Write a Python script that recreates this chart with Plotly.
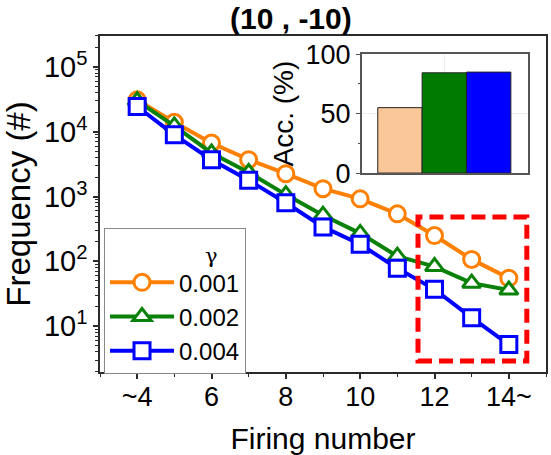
import plotly.graph_objects as go

# ---- data ----
firing = [4, 5, 6, 7, 8, 9, 10, 11, 12, 13, 14]
freq_0001 = [31000, 14000, 6700, 3700, 2250, 1320, 920, 540, 250, 107, 55]
freq_0002 = [30000, 12300, 4700, 2350, 1070, 515, 270, 120, 83, 46, 36]
freq_0004 = [24500, 8950, 3700, 1780, 800, 340, 183, 78, 37, 13.5, 5.2]
gammas = ["0.001", "0.002", "0.004"]
acc_pos = [0, 1, 2]
acc_vals = [55, 84.3, 84.9]
x_tickvals = [4, 6, 8, 10, 12, 14]
x_ticktext = ["~4", "6", "8", "10", "12", "14~"]
y_tickvals = [10, 100, 1000, 10000, 100000]
y_ticktext = ["10<sup>1</sup>", "10<sup>2</sup>", "10<sup>3</sup>", "10<sup>4</sup>", "10<sup>5</sup>"]

FONT = "Liberation Sans, Arial, sans-serif"
AX = "#2a2a2a"

fig = go.Figure()

series = [
    (freq_0001, gammas[0], "#FF8000", "circle"),
    (freq_0002, gammas[1], "#0A820A", "triangle-up"),
    (freq_0004, gammas[2], "#0000FF", "square"),
]
for ys, name, col, sym in series:
    fig.add_trace(go.Scatter(
        x=firing, y=ys, name=name, mode="lines+markers",
        line=dict(color=col, width=4),
        marker=dict(symbol=sym, size=16, color="white",
                    line=dict(color=col, width=3)),
    ))

fig.add_trace(go.Bar(
    x=acc_pos, y=acc_vals, width=1, xaxis="x2", yaxis="y2",
    marker=dict(color=["#FAC898", "#007A00", "#0000FF"], line=dict(color="#222", width=1)),
    showlegend=False,
))

fig.update_layout(
    width=551, height=455,
    margin=dict(l=100, r=5, t=36, b=83),
    paper_bgcolor="white", plot_bgcolor="white",
    font=dict(family=FONT, color="black"),
    title=dict(text="<b>(10 , -10)</b>", x=0.428, xref="paper", xanchor="center",
               y=1 - 18 / 455, yref="container", yanchor="middle",
               font=dict(size=30, family=FONT)),
    xaxis=dict(range=[3, 15], tickvals=x_tickvals, ticktext=x_ticktext, automargin=False,
               ticks="outside", ticklen=5, tickwidth=1.5, tickcolor=AX,
               showline=True, linecolor=AX, linewidth=1.5, mirror=True,
               showgrid=False, zeroline=False, ticklabelstandoff=-5,
               minor=dict(ticks="outside", ticklen=3, tickwidth=1.2, tickcolor=AX, dtick=1, tick0=3),
               tickfont=dict(size=27),
               title=dict(text="Firing number", font=dict(size=30), standoff=17)),
    yaxis=dict(type="log", range=[0.292, 5.477], tickvals=y_tickvals, ticktext=y_ticktext,
               automargin=False,
               ticks="outside", ticklen=5, tickwidth=1.5, tickcolor=AX,
               showline=True, linecolor=AX, linewidth=1.5, mirror=True,
               showgrid=False, zeroline=False,
               minor=dict(ticks="outside", ticklen=3, tickwidth=1, tickcolor=AX, dtick="D1"),
               tickfont=dict(size=29),
               title=dict(text="Frequency (#)", font=dict(size=33), standoff=26)),
    xaxis2=dict(domain=[0.587, 0.960], anchor="y2", range=[-0.86, 2.89], automargin=False,
                tickvals=[1], showticklabels=False, ticks="",
                showgrid=True, gridcolor="#ececec", gridwidth=1,
                showline=True, linecolor="#555", linewidth=1.5, mirror=True, zeroline=False),
    yaxis2=dict(domain=[0.592, 0.946], anchor="x2", range=[0, 100], dtick=50, automargin=False,
                ticks="outside", ticklen=4, tickwidth=1.2, tickcolor="#555",
                minor=dict(ticks="outside", ticklen=2, tickcolor="#555", dtick=25),
                showgrid=True, gridcolor="#ececec",
                showline=True, linecolor="#555", linewidth=1.5, mirror=True, zeroline=False,
                tickfont=dict(size=27),
                title=dict(text="Acc. (%)", font=dict(size=28), standoff=4)),
    legend=dict(x=0.009, y=0.4286, xanchor="left", yanchor="top",
                bgcolor="white", bordercolor="#888", borderwidth=1,
                font=dict(size=24), itemwidth=64, tracegroupgap=0,
                title=dict(text="\u00a0", font=dict(size=24))),
    annotations=[dict(text="γ", xref="paper", yref="paper", x=0.251, y=0.345,
                      xanchor="center", yanchor="middle", showarrow=False,
                      font=dict(size=21, family="DejaVu Serif, serif", color="black"))],
    shapes=[dict(type="rect", xref="paper", yref="paper",
                 x0=0.713, x1=0.957, y0=0.033, y1=0.461,
                 line=dict(color="#FF0000", width=5, dash="14px,7px"))],
)

fig.write_html("out.html", config={"displayModeBar": False},
               post_script="document.body.style.margin='0';")
